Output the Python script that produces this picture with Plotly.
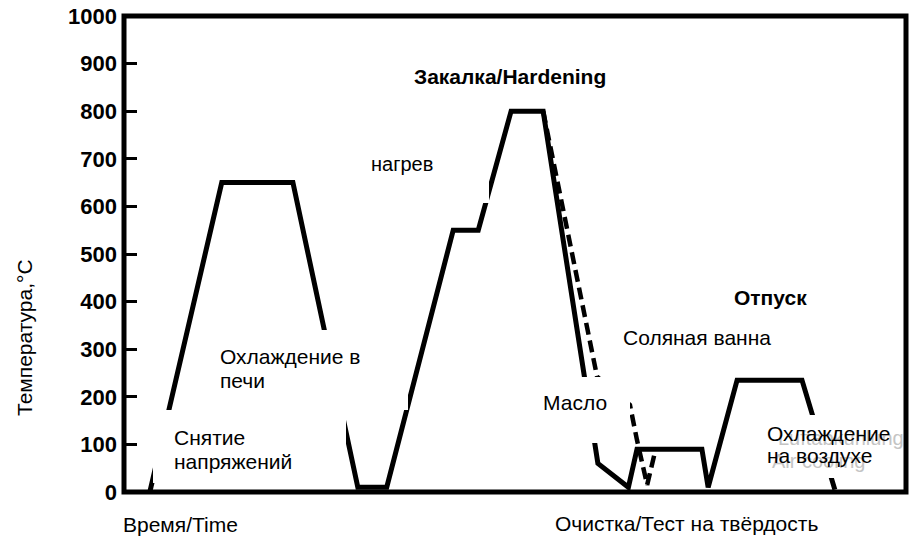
import plotly.graph_objects as go

# ---- data (time in arbitrary units 0..100, temperature in °C) ----
main_time = [3.3, 12.5, 21.6, 29.9, 33.6, 42.1, 45.3, 49.5, 53.6, 60.6, 64.5, 65.6, 73.9, 74.7, 78.4, 86.7, 90.9]
main_temp = [0, 650, 650, 10, 10, 550, 550, 800, 800, 60, 10, 90, 90, 10, 235, 235, 5]

salt_time = [53.6, 60.5, 64.7, 65.6, 66.9, 67.9]
salt_temp = [800, 242, 183, 109, 15, 84]

y_ticks = [0, 100, 200, 300, 400, 500, 600, 700, 800, 900, 1000]

# ---- layout helpers (screen pixel -> paper) ----
W, H = 915, 540
PL, PR, PT, PB = 124, 906, 16, 492   # plot area as seen on screen


def fx(px):
    return (px - PL) / (PR - PL)


def fy(py):
    return (PB - py) / (PB - PT)


FONT = "Liberation Sans, Arial, sans-serif"

fig = go.Figure()
fig.add_trace(go.Scatter(x=main_time, y=main_temp, mode="lines",
                         line=dict(color="black", width=5), hoverinfo="skip",
                         showlegend=False))
fig.add_trace(go.Scatter(x=salt_time, y=salt_temp, mode="lines",
                         line=dict(color="black", width=4.5, dash="12px,6px"),
                         hoverinfo="skip", showlegend=False))

# white label boxes that hide parts of the curve (as in the reference)
boxes = [
    (210, 330, 408, 410),   # Охлаждение в печи
    (153, 410, 346, 483),   # Снятие напряжений
    (335, 135, 489, 203),   # нагрев
    (535, 377, 630, 443),   # Масло
    (760, 415, 895, 478),   # Охлаждение на воздухе
]
shapes = []
for x0, y0, x1, y1 in boxes:
    shapes.append(dict(type="rect", xref="paper", yref="paper",
                       x0=fx(x0), x1=fx(x1), y0=fy(y1), y1=fy(y0),
                       fillcolor="white", line=dict(width=0), layer="above"))
# heavy frame around the plot area
shapes.append(dict(type="rect", xref="paper", yref="paper", x0=0, x1=1, y0=0, y1=1,
                   line=dict(color="black", width=5), fillcolor="rgba(0,0,0,0)",
                   layer="above"))

anns = []


def txt(text, px, py, size=21, anchor="left", color="black", bold=False, angle=0):
    anns.append(dict(text=text, x=fx(px), y=fy(py), xref="paper", yref="paper",
                     xanchor=anchor, yanchor="middle", showarrow=False,
                     textangle=angle, align="left",
                     font=dict(family=FONT, size=size, color=color,
                               weight="bold" if bold else "normal")))


txt("Закалка/Hardening", 510, 76, size=21, anchor="center", bold=True)
txt("нагрев", 369, 164, size=20)
txt("Снятие", 172, 437)
txt("напряжений", 172, 461)
txt("Охлаждение в", 218, 356)
txt("печи", 218, 380)
txt("Масло", 541, 402)
txt("Соляная ванна", 621, 337)
txt("Отпуск", 770, 297, size=21, anchor="center", bold=True)
txt("Luftabkühlung", 776, 438, size=20, color="#c4c4c4")
txt("Air cooling", 770, 461, size=20, color="#c4c4c4")
txt("Охлаждение", 765, 433)
txt("на воздухе", 765, 455)
txt("Время/Time", 121, 524)
txt("Очистка/Тест на твёрдость", 553, 523)
txt("Температура,°С", 24, 338, size=21, anchor="center", angle=-90)

fig.update_layout(
    width=W, height=H,
    margin=dict(l=PL, r=W - PR, t=PT, b=H - PB, pad=0),
    paper_bgcolor="white", plot_bgcolor="white",
    shapes=shapes, annotations=anns,
    xaxis=dict(range=[0, 100], showgrid=False, zeroline=False, showticklabels=False,
               automargin=False, ticks="", showline=False),
    yaxis=dict(range=[0, 1000], tickvals=y_ticks, ticktext=[str(v) for v in y_ticks],
               automargin=False,
               showgrid=False, zeroline=False, ticks="inside", ticklen=13, tickwidth=2.5,
               tickcolor="black", showline=False, ticklabelstandoff=6,
               tickfont=dict(family=FONT, size=22, color="black", weight="bold")),
)

fig.write_html("out.html", config={"displayModeBar": False},
               post_script="document.body.style.margin='0';document.body.style.overflow='hidden';")
